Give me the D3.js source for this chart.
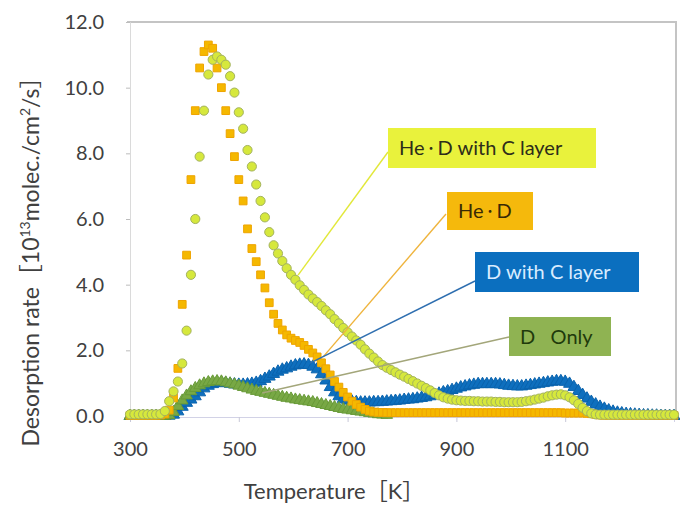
<!DOCTYPE html>
<html>
<head>
<meta charset="utf-8">
<script src="https://cdn.jsdelivr.net/npm/d3@7"></script>
<style>
  body { margin: 0; background: #fff; }
  svg { font-family: Lato, "Noto Sans CJK JP", sans-serif; }
</style>
</head>
<body>
<svg id="chart" width="680" height="506"></svg>
<script>
// temperature grid (K)
var tempK = [
  300, 308, 316, 324, 332, 340, 348, 356, 364, 372,
  380, 388, 396, 404, 412, 420, 428, 436, 444, 452,
  460, 468, 476, 484, 492, 500, 508, 516, 524, 532,
  540, 548, 556, 564, 572, 580, 588, 596, 604, 612,
  620, 628, 636, 644, 652, 660, 668, 676, 684, 692,
  700, 708, 716, 724, 732, 740, 748, 756, 764, 772,
  780, 788, 796, 804, 812, 820, 828, 836, 844, 852,
  860, 868, 876, 884, 892, 900, 908, 916, 924, 932,
  940, 948, 956, 964, 972, 980, 988, 996, 1004, 1012,
  1020, 1028, 1036, 1044, 1052, 1060, 1068, 1076, 1084, 1092,
  1100, 1108, 1116, 1124, 1132, 1140, 1148, 1156, 1164, 1172,
  1180, 1188, 1196, 1204, 1212, 1220, 1228, 1236, 1244, 1252,
  1260, 1268, 1276, 1284, 1292, 1300
];

// He・D with C layer
var heDC = [
  0.05, 0.05, 0.05, 0.05, 0.05, 0.05, 0.05, 0.06, 0.15, 0.45,
  0.75, 1.05, 1.6, 2.6, 4.3, 6.0, 7.9, 9.3, 10.4, 10.85,
  10.95, 10.85, 10.7, 10.35, 9.85, 9.25, 8.75, 8.1, 7.6, 7.05,
  6.55, 6.05, 5.6, 5.2, 4.95, 4.72, 4.5, 4.3, 4.15, 3.98,
  3.84, 3.7, 3.58, 3.47, 3.35, 3.22, 3.1, 2.95, 2.82, 2.68,
  2.55, 2.42, 2.3, 2.17, 2.03, 1.9, 1.78, 1.66, 1.55, 1.47,
  1.4, 1.33, 1.26, 1.2, 1.13, 1.06, 0.99, 0.92, 0.85, 0.78,
  0.7, 0.63, 0.57, 0.53, 0.5, 0.48, 0.47, 0.46, 0.46, 0.45,
  0.45, 0.44, 0.44, 0.44, 0.43, 0.43, 0.42, 0.42, 0.42, 0.42,
  0.43, 0.45, 0.47, 0.5, 0.53, 0.56, 0.6, 0.63, 0.65, 0.66,
  0.63, 0.57, 0.48, 0.37, 0.25, 0.15, 0.08, 0.05, 0.04, 0.04,
  0.04, 0.04, 0.04, 0.04, 0.04, 0.04, 0.04, 0.04, 0.04, 0.04,
  0.04, 0.04, 0.04, 0.04, 0.04, 0.04
];

// He・D
var heD = [
  0.02, 0.02, 0.02, 0.02, 0.02, 0.02, 0.02, 0.03, 0.06, 0.18,
  0.55, 1.45, 3.4, 4.9, 7.2, 9.3, 10.6, 11.1, 11.3, 11.2,
  10.6, 10.0, 9.3, 8.6, 7.9, 7.2, 6.55, 5.7, 5.1, 4.7,
  4.3, 3.9, 3.45, 3.1, 2.82, 2.62, 2.47, 2.37, 2.3, 2.24,
  2.15, 2.03, 1.92, 1.8, 1.62, 1.44, 1.25, 1.05, 0.88, 0.72,
  0.58, 0.45, 0.35, 0.27, 0.2, 0.15, 0.12, 0.11, 0.11, 0.1,
  0.1, 0.1, 0.1, 0.1, 0.1, 0.1, 0.1, 0.1, 0.1, 0.1,
  0.1, 0.1, 0.1, 0.1, 0.1, 0.1, 0.1, 0.1, 0.1, 0.1,
  0.1, 0.1, 0.1, 0.1, 0.1, 0.1, 0.1, 0.1, 0.1, 0.1,
  0.1, 0.1, 0.1, 0.1, 0.1, 0.1, 0.1, 0.1, 0.1, 0.1,
  0.09, 0.09, 0.09, 0.09, 0.09, 0.08, 0.07, 0.05, 0.03, 0.02,
  0.02, 0.02, 0.02, 0.02, 0.02, 0.02, 0.02, 0.02, 0.02, 0.02,
  0.02, 0.02, 0.02, 0.02, 0.02, 0.02
];

// D with C layer
var dC = [
  0, 0, 0, 0, 0, 0, 0, 0, 0, 0.01,
  0.04, 0.14, 0.28, 0.4, 0.5, 0.6, 0.72, 0.84, 0.92, 0.97,
  1.0, 1.01, 1.0, 0.98, 0.96, 0.95, 0.95, 0.96, 0.98, 1.01,
  1.06, 1.13, 1.2, 1.28, 1.35, 1.41, 1.45, 1.5, 1.54, 1.56,
  1.57, 1.55, 1.5, 1.42, 1.27, 1.08, 0.88, 0.72, 0.6, 0.52,
  0.47, 0.44, 0.42, 0.41, 0.41, 0.41, 0.42, 0.42, 0.43, 0.44,
  0.45, 0.46, 0.47, 0.49, 0.5, 0.51, 0.53, 0.55, 0.57, 0.6,
  0.64, 0.68, 0.72, 0.75, 0.79, 0.83, 0.87, 0.9, 0.93, 0.95,
  0.97, 0.97, 0.97, 0.97, 0.97, 0.96, 0.94, 0.92, 0.91, 0.9,
  0.9, 0.92, 0.94, 0.96, 0.98, 1.0, 1.02, 1.04, 1.06, 1.06,
  1.04, 0.98, 0.88, 0.76, 0.64, 0.53, 0.43, 0.35, 0.28, 0.22,
  0.17, 0.13, 0.1, 0.08, 0.06, 0.05, 0.04, 0.03, 0.02, 0.02,
  0.01, 0.01, 0, 0, 0, 0
];

// D Only
var dOnly = [
  0, 0, 0, 0, 0, 0, 0, 0, 0, 0.02,
  0.12, 0.3, 0.47, 0.62, 0.75, 0.85, 0.93, 0.99, 1.03, 1.05,
  1.06, 1.05, 1.02, 0.99, 0.96, 0.92, 0.88, 0.84, 0.8, 0.76,
  0.73, 0.7, 0.67, 0.64, 0.61, 0.58, 0.55, 0.53, 0.5, 0.48,
  0.46, 0.44, 0.42, 0.39, 0.36, 0.33, 0.3, 0.27, 0.24, 0.21,
  0.19, 0.17, 0.15, 0.13, 0.11, 0.09, 0.07, 0.05, 0.04, 0.03
];

var xTicks = [300, 500, 700, 900, 1100];
var yTicks = [0, 2, 4, 6, 8, 10, 12];

var LEFT = 130, RIGHT = 676, TOP = 22, BOTTOM = 416;

var svg = d3.select('#chart');

var xScale = d3.scaleLinear()
  .domain([300, 1300])
  .range([LEFT, 674]);

var yScale = d3.scaleLinear()
  .domain([0, 12])
  .range([BOTTOM, TOP]);

// plot area border (top / right)
svg.append('path')
  .attr('d', 'M' + (LEFT - 3) + ',' + TOP + 'H' + RIGHT + 'V' + (BOTTOM + 1))
  .attr('fill', 'none')
  .attr('stroke', '#c4c4c4')
  .attr('stroke-width', 2);

// axes
var yAxis = d3.axisLeft(yScale)
  .tickValues(yTicks)
  .tickFormat(d3.format('.1f'))
  .tickSize(4)
  .tickPadding(22);

var yAxisGroup = svg.append('g')
  .attr('transform', 'translate(' + LEFT + ',0)')
  .call(yAxis);
yAxisGroup.select('.domain').attr('stroke', '#dadada');
yAxisGroup.selectAll('line').attr('stroke', '#bdbdbd');
yAxisGroup.selectAll('text')
  .attr('font-size', 20)
  .attr('fill', '#404040')
  .attr('font-family', 'Lato');

var xAxis = d3.axisBottom(xScale)
  .tickValues(xTicks)
  .tickFormat(d3.format('d'))
  .tickSize(5)
  .tickPadding(20);

var xAxisGroup = svg.append('g')
  .attr('transform', 'translate(0,' + (BOTTOM + 1) + ')')
  .call(xAxis);
xAxisGroup.select('.domain').attr('stroke', '#d2d2e6');
xAxisGroup.selectAll('line').attr('stroke', '#c8c8d8');
xAxisGroup.selectAll('text')
  .attr('font-size', 20)
  .attr('fill', '#404040')
  .attr('font-family', 'Lato');

// axis titles
svg.append('text')
  .attr('x', 334)
  .attr('y', 499)
  .attr('text-anchor', 'middle')
  .attr('font-size', 22)
  .attr('fill', '#404040')
  .text('Temperature［K］');

var yTitle = svg.append('text')
  .attr('transform', 'translate(39,256) rotate(-90)')
  .attr('text-anchor', 'middle')
  .attr('font-size', 23)
  .attr('fill', '#404040');
yTitle.append('tspan').text('Desorption rate［10');
yTitle.append('tspan').attr('dy', -9).attr('font-size', 14).text('13');
yTitle.append('tspan').attr('dy', 9).text('molec./cm');
yTitle.append('tspan').attr('dy', -9).attr('font-size', 14).text('2');
yTitle.append('tspan').attr('dy', 9).text('/s］');

// series, drawn bottom to top
var series = [
  {name: 'D with C layer', values: dC, symbol: d3.symbolTriangle, size: 62, fill: '#0e6fbe', stroke: '#0a63ad'},
  {name: 'D Only', values: dOnly, symbol: d3.symbolTriangle, size: 58, fill: '#78a845', stroke: '#689a38'},
  {name: 'He・D', values: heD, symbol: d3.symbolSquare, size: 60, fill: '#f5b800', stroke: '#eea400'},
  {name: 'He・D with C layer', values: heDC, symbol: d3.symbolCircle, size: 66, fill: '#d6e83c', stroke: '#a3b25e'}
];

series.forEach(function(s) {
  var pts = s.values.map(function(v, i) { return {t: tempK[i], v: v}; });
  svg.append('g')
    .selectAll('path')
    .data(pts).enter()
    .append('path')
    .attr('transform', function(d) { return 'translate(' + xScale(d.t) + ',' + yScale(d.v) + ')'; })
    .attr('d', d3.symbol().type(s.symbol).size(s.size))
    .attr('fill', s.fill)
    .attr('stroke', s.stroke)
    .attr('stroke-width', 1);
});

// callout labels
var labels = [
  {text: 'He・D with C layer', x: 388, y: 128, w: 208, h: 40, fill: '#e9f23c', color: '#2d2d1a', line: '#e2e83a', t: 609, v: 4.29, lx: 388, ly: 152},
  {text: 'He・D', x: 447, y: 192, w: 86, h: 38, fill: '#f5b90c', color: '#3a2a05', line: '#efb43c', t: 655, v: 1.8, lx: 446, ly: 214},
  {text: 'D with C layer', x: 475, y: 252, w: 164, h: 40, fill: '#0b6fbf', color: '#d8ecff', line: '#2f6fb0', t: 631, v: 1.61, lx: 475, ly: 281},
  {text: 'D   Only', x: 509, y: 317, w: 102, h: 39, fill: '#8fb352', color: '#1f3a0c', line: '#a3a67a', t: 543, v: 0.7, lx: 509, ly: 337}
];

labels.forEach(function(l) {
  svg.append('line')
    .attr('x1', l.lx).attr('y1', l.ly)
    .attr('x2', xScale(l.t)).attr('y2', yScale(l.v))
    .attr('stroke', l.line)
    .attr('stroke-width', 1.4);
  svg.append('rect')
    .attr('x', l.x).attr('y', l.y)
    .attr('width', l.w).attr('height', l.h)
    .attr('fill', l.fill);
  var txt = svg.append('text')
    .attr('x', l.x + 11)
    .attr('y', l.y + l.h / 2 + 7)
    .attr('font-size', 20)
    .attr('fill', l.color)
    .style('white-space', 'pre');
  // the middle dot is set smaller so it sits tight between the letters
  l.text.split('・').forEach(function(part, i) {
    if (i > 0) {
      txt.append('tspan').attr('font-size', 13).attr('dy', -2).text('・');
      txt.append('tspan').attr('dy', 2).text(part);
    } else {
      txt.append('tspan').text(part);
    }
  });
});
</script>
</body>
</html>
